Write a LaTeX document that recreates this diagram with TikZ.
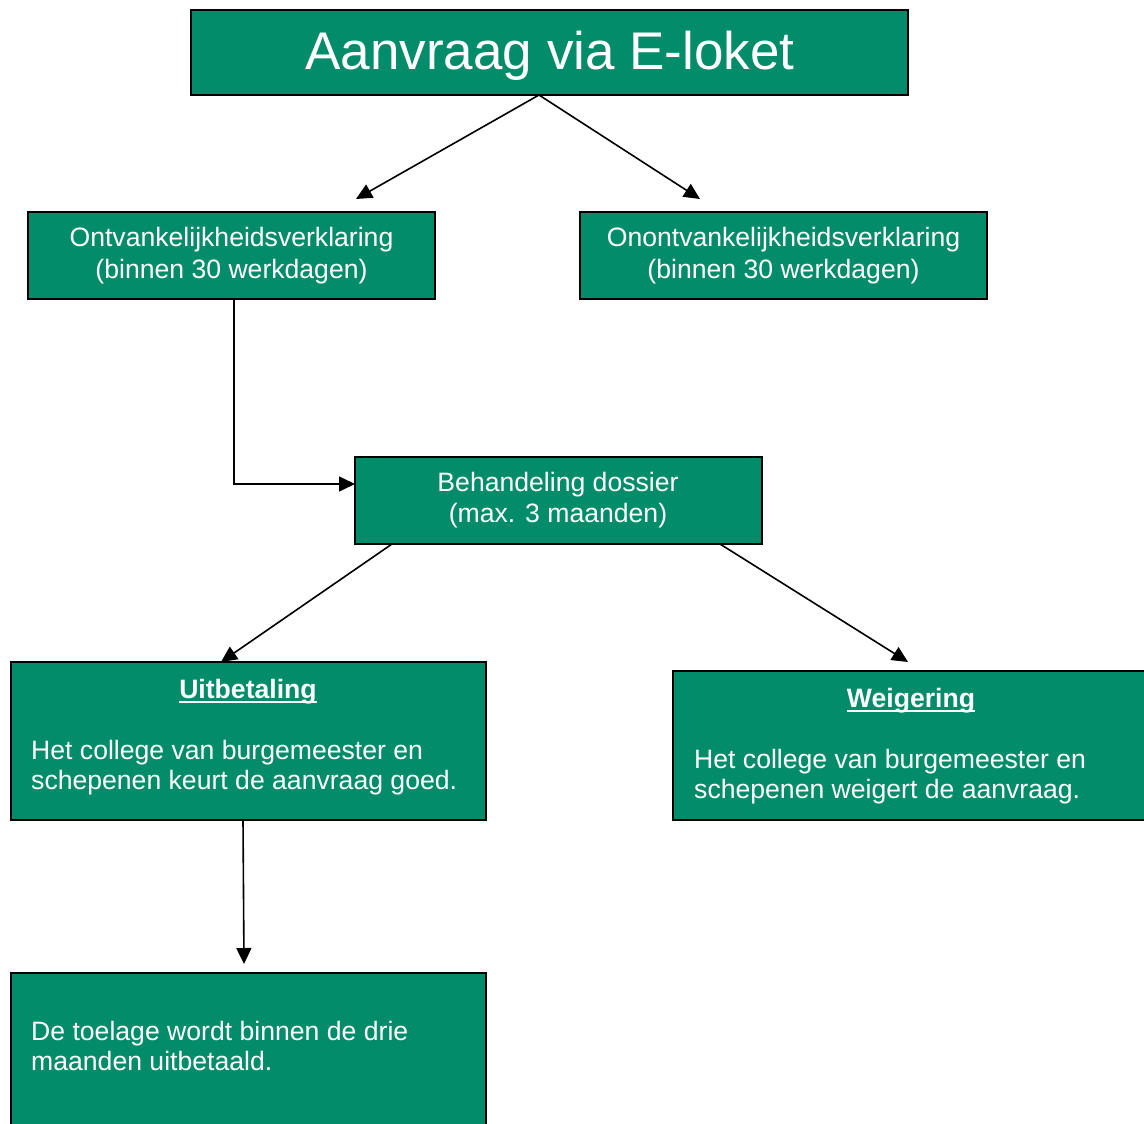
\documentclass[tikz,border=0pt]{standalone}
\usepackage{fontspec}
\setmainfont{Liberation Sans}
\usetikzlibrary{arrows.meta,calc}
\definecolor{boxgreen}{RGB}{3,140,106}
\begin{document}
\begin{tikzpicture}[x=1pt,y=-1pt,
  box/.style={draw=black, line width=2pt, fill=boxgreen, inner sep=0pt, outer sep=0pt, rectangle, anchor=north west},
  txt/.style={text=white, inner sep=0pt, font=\fontsize{26.6}{31}\selectfont},
  ttl/.style={text=white, inner sep=0pt, font=\fontsize{26.6}{31}\selectfont\bfseries, anchor=base},
  uline/.style={draw=white, line width=2pt},
  arr/.style={draw=black, line width=1.6pt, -{Triangle[length=16pt,width=15pt]}}]
\useasboundingbox (0,0) rectangle (1144,1124);

% boxes
\node[box, minimum width=717pt, minimum height=85pt] (top) at (191,10) {};
\node[box, minimum width=407pt, minimum height=87pt] (ontv) at (28,212) {};
\node[box, minimum width=407pt, minimum height=87pt] (onontv) at (580,212) {};
\node[box, minimum width=407pt, minimum height=87pt] (behand) at (355,457) {};
\node[box, minimum width=475pt, minimum height=158pt] (uitb) at (11,662) {};
\node[box, minimum width=477pt, minimum height=149pt] (weig) at (673,671) {};
\node[box, minimum width=475pt, minimum height=162pt] (toel) at (11,973) {};

% texts
\node[txt, anchor=base, font=\fontsize{53}{60}\selectfont] (toptxt) at (550,70) {Aanvraag via E-loket};

\node[txt, anchor=base] (ontv1) at (231.5,246.7) {Ontvankelijkheidsverklaring};
\node[txt, anchor=base] (ontv2) at (231.5,278) {(binnen 30 werkdagen)};

\node[txt, anchor=base] (onontv1) at (783.5,246.7) {Onontvankelijkheidsverklaring};
\node[txt, anchor=base] (onontv2) at (783.5,278) {(binnen 30 werkdagen)};

\node[txt, anchor=base] (behand1) at (558,491.7) {Behandeling dossier};
\node[txt, anchor=base] (behand2) at (558,522.7) {(max. 3 maanden)};

\node[ttl] (uitbt) at (248,698) {Uitbetaling};
\draw[uline] ([yshift=-4pt]uitbt.base west) -- ([yshift=-4pt]uitbt.base east);
\node[txt, anchor=base west] (uitb1) at (31,759) {Het college van burgemeester en};
\node[txt, anchor=base west] (uitb2) at (31,789.5) {schepenen keurt de aanvraag goed.};

\node[ttl] (weigt) at (911,707) {Weigering};
\draw[uline] ([yshift=-4pt]weigt.base west) -- ([yshift=-4pt]weigt.base east);
\node[txt, anchor=base west] (weig1) at (694,768) {Het college van burgemeester en};
\node[txt, anchor=base west] (weig2) at (694,798) {schepenen weigert de aanvraag.};

\node[txt, anchor=base west] (toel1) at (31,1040) {De toelage wordt binnen de drie};
\node[txt, anchor=base west] (toel2) at (31,1070) {maanden uitbetaald.};

% arrow end points
\coordinate (e1) at (356,199);
\coordinate (e2) at (700,199);
\coordinate (e3) at (908,662);
\coordinate (e4) at (244,964);

% connectors
\draw[arr] ([xshift=-10.5pt]top.south) -- (e1);
\draw[arr] ([xshift=-10.5pt]top.south) -- (e2);
\draw[arr] ([xshift=2.5pt]ontv.south) |- ([yshift=16.5pt]behand.west);
\draw[arr] ([xshift=-166.5pt]behand.south) -- ([xshift=-27.5pt]uitb.north);
\draw[arr] ([xshift=161.5pt]behand.south) -- (e3);
\draw[arr] ([xshift=-5.5pt]uitb.south) -- (e4);
\end{tikzpicture}
\end{document}
